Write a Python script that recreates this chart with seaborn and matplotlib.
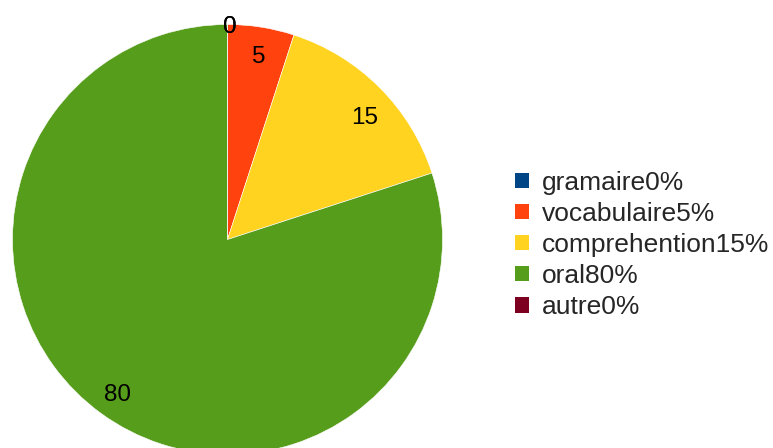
import numpy as np
import matplotlib
matplotlib.use("Agg")
import matplotlib.pyplot as plt
import matplotlib.patches as mpatches
import seaborn as sns

categories = ["gramaire", "vocabulaire", "comprehention", "oral", "autre"]
values = [0, 5, 15, 80, 0]
legend_labels = ["gramaire0%", "vocabulaire5%", "comprehention15%", "oral80%", "autre0%"]
colors = ["#004586", "#ff420e", "#ffd320", "#579d1c", "#7e0021"]

sns.set_theme(style="white")
plt.rcParams["font.family"] = ["Liberation Sans", "DejaVu Sans"]

W, H = 773, 448
fig = plt.figure(figsize=(W / 100, H / 100), dpi=100)
ax = fig.add_axes([0, 0, 1, 1])

cx, cy, R = 227.5, H - 239.5, 215
wedges, _ = ax.pie(values, colors=colors, startangle=90, counterclock=False,
                   center=(cx, cy), radius=R,
                   wedgeprops=dict(edgecolor="white", linewidth=0.4))
ax.set_xlim(0, W)
ax.set_ylim(0, H)
ax.set_aspect("equal")
ax.axis("off")

# small pixel nudges for label placement (style only)
nudges = {0: (2, -2), 1: (2, -2), 2: (5, -11), 3: (0, -4), 4: (2, -2)}
for i, (w, v) in enumerate(zip(wedges, values)):
    mid = np.deg2rad((w.theta1 + w.theta2) / 2)
    r = R * (1.0 if v == 0 else 0.87)
    dx, dy = nudges[i]
    ax.text(cx + r * np.cos(mid) + dx, cy + r * np.sin(mid) + dy, f"{v}",
            ha="center", va="center", fontsize=17.5, color="black")

handles = [mpatches.Patch(facecolor=c, edgecolor="none") for c in colors]
fig.legend(handles, legend_labels, loc="center left",
           bbox_to_anchor=(515 / W, (H - 245) / H), bbox_transform=fig.transFigure,
           frameon=False, fontsize=19, borderpad=0, borderaxespad=0,
           handlelength=0.52, handleheight=0.52, handletextpad=0.5,
           labelspacing=0.27)

fig.savefig("out.png", dpi=100)
